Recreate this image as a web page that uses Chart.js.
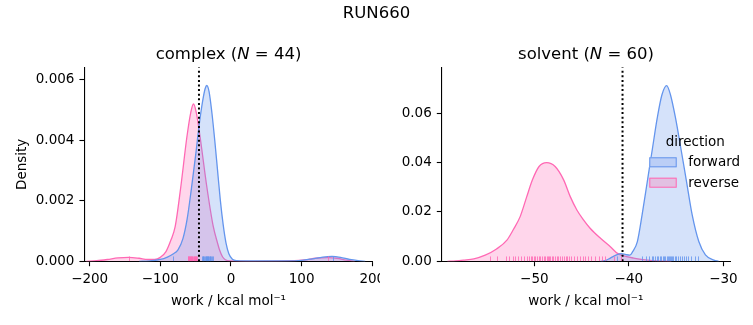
<!DOCTYPE html>
<html><head><meta charset="utf-8">
<script src="https://cdn.jsdelivr.net/npm/chart.js@4.4.0/dist/chart.umd.min.js"></script>
<style>
html,body{margin:0;padding:0;background:#fff;}
#wrap{position:relative;width:753px;height:325px;overflow:hidden;font-family:"DejaVu Sans";background:#fff;}
canvas{position:absolute;top:0;}
.t{position:absolute;white-space:nowrap;color:#000;transform:translate(-50%,-50%);line-height:1;}
</style></head><body>
<div id="wrap">
<canvas id="c1" width="380" height="325" style="left:0px"></canvas>
<canvas id="c2" width="373" height="325" style="left:380px"></canvas>
<div class="t" style="left:376.5px;top:12.5px;font-size:16.5px">RUN660</div>
<div class="t" style="left:228.5px;top:54px;font-size:16.5px">complex (<i>N</i> = 44)</div>
<div class="t" style="left:586px;top:54px;font-size:16.5px">solvent (<i>N</i> = 60)</div>
</div>
<script>
// ---------- data ----------
const directions = ['forward', 'reverse'];

// complex: KDE curves
const complexForwardX = [-130,-115,-100,-90,-82,-75,-68,-62,-56,-50,-45,-40,-36.5,-34.2,-31,-27,-23,-19,-15,-11,-7,-3,2,8,20,50,80,100,115,130,143,155,168,180,190];
const complexForwardY = [0,0.00001,0.00006,0.00014,0.00024,0.00038,0.00075,0.0014,0.0024,0.0035,0.0045,0.0053,0.0057,0.0058,0.0056,0.0049,0.0040,0.0030,0.0020,0.0012,0.0006,0.00025,0.00007,0.00002,0.00001,0.00001,0.00001,0.00003,0.00008,0.00014,0.00016,0.00013,0.00006,0.00002,0];
const complexReverseX = [-205,-190,-175,-160,-145,-130,-118,-108,-100,-92,-85,-79,-71,-62.4,-57,-53.1,-49,-43.7,-34.2,-25,-19,-16.5,-12,-8,0,30,90,105,120,137,150,163,175];
const complexReverseY = [0,0.00002,0.00006,0.00011,0.00013,0.0001,0.00006,0.00006,0.00013,0.00032,0.0007,0.00114,0.00246,0.0041,0.0049,0.00519,0.0049,0.0041,0.00246,0.00114,0.0006,0.0004,0.00015,0.00005,0.00001,0,0.00002,0.00005,0.0001,0.00012,0.0001,0.00004,0];
// complex: rug samples
const complexForwardRug = [-81.5,-41,-40,-39,-38,-37,-36,-35.2,-34.5,-33.7,-33,-32,-31,-30,-29,-28,-27,-25,145];
const complexReverseRug = [-145,-61.5,-60.5,-59.8,-59,-58.2,-57.5,-56.8,-56,-55.3,-54.5,-53.8,-53,-52.3,-51.5,-50.8,-50,-49.2,-48.5,138];
const complexRef = -45.3;

// solvent: KDE curves
const solventForwardX = [-43,-42.5,-42,-41.3,-40.8,-40.3,-39.9,-39.6,-39.1,-38.6,-38.05,-37.5,-37.0,-36.5,-36.0,-35.6,-35.06,-34.5,-33.9,-33.3,-32.6,-31.9,-31.0,-30.5];
const solventForwardY = [0,0.0003,0.0012,0.0026,0.0031,0.0027,0.0025,0.0039,0.008,0.0188,0.0323,0.0458,0.058,0.0675,0.0712,0.0675,0.058,0.0458,0.0323,0.0188,0.008,0.0026,0.0005,0];
const solventReverseX = [-59.2,-58.3,-57.5,-56.4,-55.2,-54.0,-52.9,-52.2,-51.5,-50.8,-50.2,-49.5,-48.7,-47.8,-46.9,-46.2,-45.5,-44.8,-44.1,-43.0,-41.9,-41.2,-40.7,-39.5,-38.5,-37.5,-36.5,-35.5];
const solventReverseY = [0,0.0002,0.0005,0.0010,0.0025,0.0050,0.0086,0.013,0.0181,0.0262,0.033,0.0384,0.040,0.0384,0.033,0.0262,0.0208,0.0168,0.0134,0.0093,0.0057,0.0032,0.0024,0.0013,0.0007,0.0003,0.0001,0];
// solvent: rug samples
const solventForwardRug = [-41.3,-38.6,-38.2,-37.9,-37.6,-37.4,-37.2,-37.0,-36.9,-36.7,-36.6,-36.4,-36.3,-36.2,-36.0,-35.9,-35.8,-35.7,-35.5,-35.4,-35.3,-35.1,-35.0,-34.8,-34.6,-34.4,-34.2,-34.0,-33.7,-33.4,-33.0,-32.7];
const solventReverseRug = [-54.7,-53.9,-53.0,-52.7,-52.3,-52.0,-51.7,-51.4,-51.1,-50.8,-50.6,-50.4,-50.2,-50.0,-49.9,-49.7,-49.5,-49.4,-49.2,-49.0,-48.9,-48.7,-48.6,-48.5,-48.3,-48.1,-48.0,-47.8,-47.6,-47.5,-47.3,-47.1,-46.9,-46.7,-46.5,-46.3,-46.1,-45.8,-45.5,-45.2,-44.9,-44.6,-44.3,-44.0,-43.6,-43.2,-42.8,-42.5,-41.6,-40.8];
const solventRef = -40.67;

// ticks
const complexXTicks = [-200,-100,0,100,200];
const complexYTicks = [0,0.002,0.004,0.006];
const solventXTicks = [-50,-40,-30];
const solventYTicks = [0,0.02,0.04,0.06];

// ---------- styles ----------
const BLUE = '#6495ED', PINK = '#FF69B4';
const BLUE_FILL = 'rgba(100,149,237,0.27)', PINK_FILL = 'rgba(255,105,180,0.27)';
const FONT = 'DejaVu Sans';
Chart.defaults.font.family = FONT;
Chart.defaults.color = '#000';

function pts(xs, ys) { return xs.map((x, i) => ({x: x, y: ys[i]})); }
function fmtMinus(v) { return v < 0 ? '\u2212' + Math.abs(v) : String(v); }

const rugPlugin = {
  id: 'rug',
  afterDatasetsDraw(chart) {
    const cfg = chart.options.plugins.rug;
    if (!cfg) return;
    const {ctx, chartArea} = chart;
    const xs = chart.scales.x;
    const h = (chartArea.bottom - chartArea.top) * 0.025;
    ctx.save();
    ctx.beginPath();
    ctx.rect(chartArea.left, chartArea.top, chartArea.right - chartArea.left, chartArea.bottom - chartArea.top);
    ctx.clip();
    cfg.sets.forEach(s => {
      ctx.strokeStyle = s.color;
      ctx.globalAlpha = 0.8;
      ctx.lineWidth = 1;
      s.values.forEach(v => {
        const px = Math.round(xs.getPixelForValue(v)) + 0.5;
        ctx.beginPath();
        ctx.moveTo(px, chartArea.bottom);
        ctx.lineTo(px, chartArea.bottom - h);
        ctx.stroke();
      });
    });
    ctx.restore();
  }
};

const legendPlugin = {
  id: 'kdeLegend',
  afterDraw(chart) {
    const cfg = chart.options.plugins.kdeLegend;
    if (!cfg) return;
    const ctx = chart.ctx;
    const ca = chart.chartArea;
    const x0 = ca.right - 80.7, y0 = ca.top + 90;
    ctx.save();
    ctx.font = '13.5px "' + FONT + '"';
    ctx.fillStyle = '#000';
    ctx.textBaseline = 'middle';
    ctx.textAlign = 'center';
    ctx.fillText(cfg.title, x0 + 46, y0 - 15);
    ctx.textAlign = 'left';
    cfg.items.forEach((it, i) => {
      const y = y0 + i * 20.4;
      ctx.fillStyle = it.fill;
      ctx.fillRect(x0, y, 27.4, 10);
      ctx.strokeStyle = it.edge;
      ctx.lineWidth = 1;
      ctx.strokeRect(x0 + 0.5, y + 0.5, 26.4, 9);
      ctx.fillStyle = '#000';
      ctx.fillText(it.label, x0 + 39, y + 5.5);
    });
    ctx.restore();
  }
};

function makeChart(id, o) {
  const datasets = [
    {label: 'ref', data: [{x: o.ref, y: 0}, {x: o.ref, y: o.ymax}], borderColor: '#000', borderWidth: 2,
     borderDash: [2, 2.6], pointRadius: 0, fill: false, order: 0},
    {label: directions[0], data: pts(o.fx, o.fy), borderColor: BLUE, backgroundColor: BLUE_FILL,
     borderWidth: 1.3, pointRadius: 0, fill: 'origin', cubicInterpolationMode: 'monotone', order: 1},
    {label: directions[1], data: pts(o.rx, o.ry), borderColor: PINK, backgroundColor: PINK_FILL,
     borderWidth: 1.3, pointRadius: 0, fill: 'origin', cubicInterpolationMode: 'monotone', order: 2}
  ];
  return new Chart(document.getElementById(id), {
    type: 'line',
    data: {datasets: datasets},
    plugins: [rugPlugin, legendPlugin],
    options: {
      responsive: false, animation: false, devicePixelRatio: 1,
      layout: {padding: {left: 0, top: o.padTop, right: o.padRight, bottom: 0}},
      plugins: {
        legend: {display: false}, tooltip: {enabled: false}, title: {display: false},
        rug: {sets: [{values: o.rugR, color: PINK}, {values: o.rugF, color: BLUE}]},
        kdeLegend: o.legend || null
      },
      scales: {
        x: {
          type: 'linear', min: o.xmin, max: o.xmax,
          border: {display: true, color: '#000', width: 1.1},
          grid: {drawOnChartArea: false, drawTicks: true, tickLength: 4.9, tickColor: '#000', tickWidth: 1.1},
          ticks: {font: {size: 13.5}, color: '#000', padding: 5, maxRotation: 0, autoSkip: false,
                  callback: v => fmtMinus(v)},
          afterBuildTicks: s => { s.ticks = o.xticks.map(v => ({value: v})); },
          afterFit: s => { s.height = o.xAxisH; s.paddingLeft = 0; s.paddingRight = 0; },
          title: {display: true, text: 'work / kcal mol\u207B\u00B9', font: {size: 13.5}, color: '#000',
                  padding: {top: 0, bottom: 15}}
        },
        y: {
          type: 'linear', min: 0, max: o.ymax,
          border: {display: true, color: '#000', width: 1.1},
          grid: {drawOnChartArea: false, drawTicks: true, tickLength: 4.9, tickColor: '#000', tickWidth: 1.1},
          ticks: {font: {size: 13.5}, color: '#000', padding: 5, autoSkip: false,
                  callback: v => v.toFixed(o.ydec)},
          afterBuildTicks: s => { s.ticks = o.yticks.map(v => ({value: v})); },
          afterFit: s => { s.width = o.yAxisW; s.paddingTop = 0; s.paddingBottom = 0; },
          title: {display: !!o.ylabel, text: o.ylabel || '', font: {size: 13.5}, color: '#000',
                  padding: {top: 14, bottom: 0}}
        }
      }
    }
  });
}

makeChart('c1', {
  fx: complexForwardX, fy: complexForwardY, rx: complexReverseX, ry: complexReverseY,
  rugF: complexForwardRug, rugR: complexReverseRug, ref: complexRef,
  xmin: -207.6, xmax: 200.6, ymax: 0.0064, xticks: complexXTicks, yticks: complexYTicks, ydec: 3,
  yAxisW: 84.3, xAxisH: 63.7, padTop: 67.3, padRight: 7.3, ylabel: 'Density'
});
makeChart('c2', {
  fx: solventForwardX, fy: solventForwardY, rx: solventReverseX, ry: solventReverseY,
  rugF: solventForwardRug, rugR: solventReverseRug, ref: solventRef,
  xmin: -59.8, xmax: -29.3, ymax: 0.0786, xticks: solventXTicks, yticks: solventYTicks, ydec: 2,
  yAxisW: 61.7, xAxisH: 63.7, padTop: 67.3, padRight: 23, ylabel: null,
  legend: {title: 'direction', items: [
    {label: directions[0], fill: 'rgb(187,206,246)', edge: BLUE},
    {label: directions[1], fill: 'rgb(226,192,226)', edge: PINK}
  ]}
});
</script>
</body></html>
